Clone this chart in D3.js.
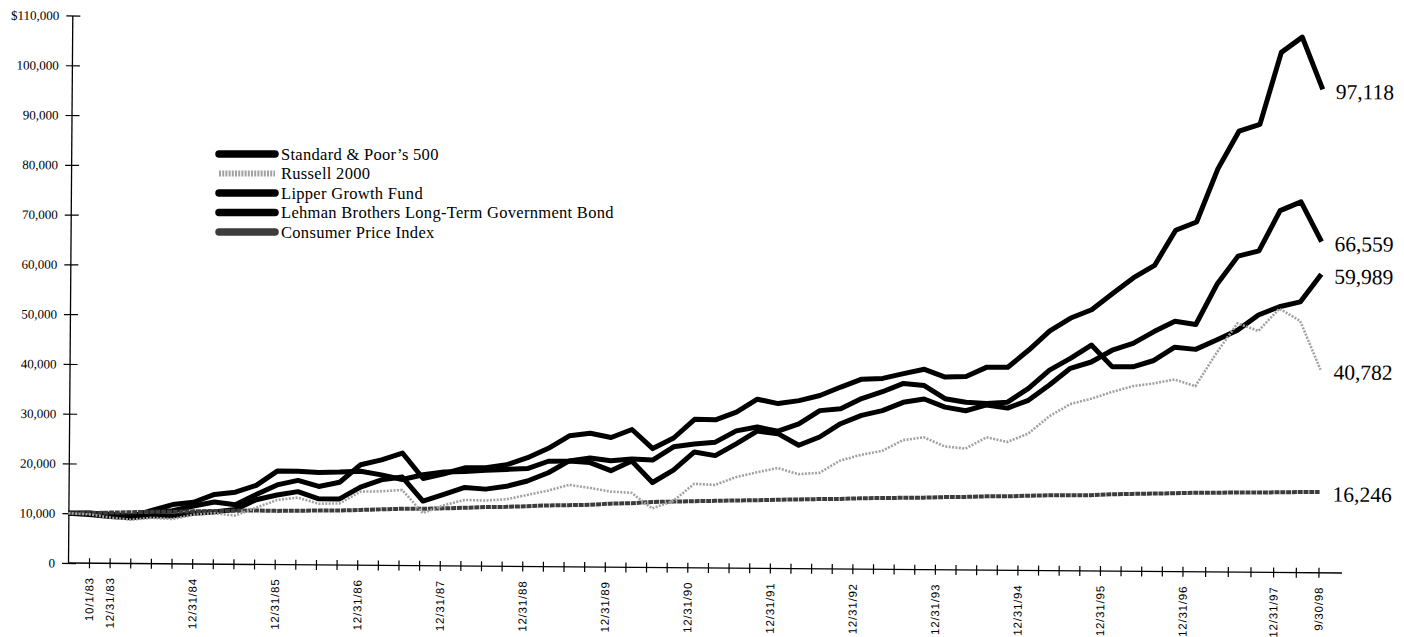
<!DOCTYPE html>
<html>
<head>
<meta charset="utf-8">
<script src="https://cdn.jsdelivr.net/npm/d3@7"></script>
<style>
  body { margin: 0; background: #fff; }
  svg { display: block; }
</style>
</head>
<body>
<svg id="chart" width="1404" height="637"></svg>
<script>
// quarter-end dates, value of $10,000 invested (in $ thousands)
const quarters = [
  "10/1/83", "12/31/83",
  "3/31/84", "6/30/84", "9/30/84", "12/31/84",
  "3/31/85", "6/30/85", "9/30/85", "12/31/85",
  "3/31/86", "6/30/86", "9/30/86", "12/31/86",
  "3/31/87", "6/30/87", "9/30/87", "12/31/87",
  "3/31/88", "6/30/88", "9/30/88", "12/31/88",
  "3/31/89", "6/30/89", "9/30/89", "12/31/89",
  "3/31/90", "6/30/90", "9/30/90", "12/31/90",
  "3/31/91", "6/30/91", "9/30/91", "12/31/91",
  "3/31/92", "6/30/92", "9/30/92", "12/31/92",
  "3/31/93", "6/30/93", "9/30/93", "12/31/93",
  "3/31/94", "6/30/94", "9/30/94", "12/31/94",
  "3/31/95", "6/30/95", "9/30/95", "12/31/95",
  "3/31/96", "6/30/96", "9/30/96", "12/31/96",
  "3/31/97", "6/30/97", "9/30/97", "12/31/97",
  "3/31/98", "6/30/98", "9/30/98"
];

const sp500 = [10.0, 10.04, 9.8, 9.55, 10.47, 10.66, 11.64, 12.49, 11.98, 14.04,
  16.02, 16.96, 15.78, 16.66, 20.21, 21.22, 22.62, 17.53, 18.53, 19.75,
  19.81, 20.43, 21.88, 23.8, 26.35, 26.88, 26.07, 27.71, 23.91, 26.07,
  29.85, 29.79, 31.37, 34.0, 33.15, 33.78, 34.83, 36.57, 38.18, 38.37,
  39.37, 40.27, 38.74, 38.9, 40.8, 40.8, 44.3, 48.2, 50.8, 52.5,
  55.8, 59.0, 61.5, 68.6, 70.3, 81.0, 88.6, 90.0, 104.5, 107.6, 97.118];

const russell2000 = [10.0, 9.8, 9.2, 8.8, 9.2, 9.0, 9.9, 10.2, 9.8, 11.4,
  13.0, 13.5, 12.3, 12.4, 14.8, 14.9, 15.2, 10.6, 12.2, 13.3,
  13.2, 13.5, 14.4, 15.3, 16.5, 15.9, 15.2, 15.0, 11.9, 13.4,
  16.9, 16.7, 18.3, 19.3, 20.2, 19.0, 19.3, 21.8, 23.0, 23.8,
  26.0, 26.6, 24.8, 24.4, 26.7, 25.8, 27.5, 31.0, 33.5, 34.6,
  36.0, 37.2, 37.8, 38.6, 37.3, 44.0, 50.0, 48.5, 53.0, 50.6, 40.782];

const lipperGrowth = [10.0, 9.8, 9.4, 9.2, 9.6, 9.6, 10.2, 10.5, 11.0, 13.0,
  14.0, 14.7, 13.3, 13.3, 15.7, 17.2, 17.8, 13.0, 14.4, 15.8,
  15.5, 16.1, 17.2, 18.9, 21.3, 21.0, 19.4, 21.4, 17.1, 19.6,
  23.3, 22.6, 25.0, 27.6, 27.1, 24.8, 26.5, 29.2, 30.9, 31.9,
  33.6, 34.3, 32.7, 32.0, 33.2, 32.6, 34.2, 37.3, 40.7, 42.0,
  44.4, 45.8, 48.2, 50.3, 49.7, 57.8, 63.5, 64.6, 72.7, 74.5, 66.559];

const lehmanBond = [10.0, 10.1, 9.8, 9.4, 10.7, 11.9, 12.4, 14.0, 14.5, 15.9,
  18.8, 18.8, 18.6, 18.7, 18.9, 18.2, 17.3, 18.3, 18.9, 19.0,
  19.3, 19.5, 19.7, 21.2, 21.3, 21.9, 21.4, 21.8, 21.6, 24.3,
  24.9, 25.3, 27.6, 28.4, 27.6, 29.1, 31.8, 32.2, 34.3, 35.7,
  37.4, 37.0, 34.4, 33.7, 33.5, 33.8, 36.6, 40.3, 42.7, 45.4,
  41.1, 41.1, 42.4, 45.1, 44.7, 46.6, 48.6, 51.7, 53.4, 54.4, 59.989];

const cpi = [10.0, 10.06, 10.19, 10.3, 10.41, 10.46, 10.57, 10.69, 10.75, 10.85,
  10.8, 10.87, 10.94, 10.97, 11.13, 11.27, 11.42, 11.46, 11.57, 11.72,
  11.9, 11.97, 12.14, 12.32, 12.41, 12.52, 12.78, 12.9, 13.18, 13.29,
  13.41, 13.51, 13.62, 13.69, 13.83, 13.92, 14.03, 14.09, 14.26, 14.34,
  14.41, 14.48, 14.62, 14.7, 14.84, 14.87, 15.03, 15.14, 15.21, 15.24,
  15.46, 15.56, 15.67, 15.75, 15.89, 15.92, 16.01, 16.02, 16.11, 16.19, 16.246];

const yTicks = [0, 10, 20, 30, 40, 50, 60, 70, 80, 90, 100, 110];

// the printed axis has one tick fewer than quarters (no mark for 6/30/98)
const tickDates = quarters.filter(d => d !== "6/30/98");

const series = [
  { name: "Standard & Poor\u2019s 500", values: sp500, style: "black" },
  { name: "Russell 2000", values: russell2000, style: "dots" },
  { name: "Lipper Growth Fund", values: lipperGrowth, style: "black" },
  { name: "Lehman Brothers Long-Term Government Bond", values: lehmanBond, style: "black" },
  { name: "Consumer Price Index", values: cpi, style: "grain" }
];

const styles = {
  black: { stroke: "#000", width: 5, dash: null },
  dots:  { stroke: "#a2a2a2", width: 2.6, dash: "2 1.4" },
  grain: { stroke: "#3c3c3c", width: 4, dash: "5 0.8" }
};

const serif = "'Liberation Serif', 'Times New Roman', serif";
const sans = "'Liberation Sans', Arial, sans-serif";

const svg = d3.select("#chart");
svg.append("rect").attr("width", 1404).attr("height", 637).attr("fill", "#fff");

const x = d3.scaleLinear().domain([0, quarters.length - 1]).range([68, 1319]);
const y = d3.scaleLinear().domain([0, 110]).range([563, 15.5]);
const tickX = d3.scaleLinear().domain([0, 53, tickDates.length - 1]).range([89.5, 1183, 1319]);

// the scanned page sits slightly askew
const plot = svg.append("g").attr("transform", "rotate(0.45 68 563)");

// y axis
const fmtY = v => v === 0 ? "0" : (v === 110 ? "$" : "") + d3.format(",")(v * 1000);
const yAxis = plot.append("g")
  .attr("transform", "translate(68,0)")
  .call(d3.axisLeft(y).tickValues(yTicks).tickSize(0).tickSizeOuter(0).tickPadding(13).tickFormat(fmtY));
yAxis.select(".domain").attr("stroke", "#000").attr("stroke-width", 1.3);
yAxis.selectAll(".tick").append("line")
  .attr("x1", -6).attr("x2", 8)
  .attr("stroke", "#000").attr("stroke-width", 1.2);
yAxis.selectAll("text")
  .attr("font-family", serif)
  .attr("font-size", 13)
  .attr("fill", "#000");

// x axis
const xAxis = plot.append("g");
xAxis.append("line")
  .attr("x1", 68).attr("x2", 1342)
  .attr("y1", y(0)).attr("y2", y(0))
  .attr("stroke", "#000").attr("stroke-width", 1.3);
xAxis.selectAll(".xtick")
  .data(tickDates)
  .join("line")
  .attr("class", "xtick")
  .attr("x1", (d, i) => tickX(i)).attr("x2", (d, i) => tickX(i))
  .attr("y1", y(0) - 5).attr("y2", y(0) + 5)
  .attr("stroke", "#000").attr("stroke-width", 1.2);
xAxis.selectAll(".xlabel")
  .data(tickDates.map((d, i) => ({ d, i })).filter(t => t.d === "10/1/83" || t.d.startsWith("12/31") || t.d === "9/30/98"))
  .join("text")
  .attr("class", "xlabel")
  .attr("transform", t => `translate(${tickX(t.i)},${y(0) + 14}) rotate(-90)`)
  .attr("text-anchor", "end")
  .attr("dy", "0.35em")
  .attr("font-family", sans)
  .attr("font-size", 11.5)
  .attr("letter-spacing", 0.8)
  .text(t => t.d);

// lines
const line = d3.line()
  .x((d, i) => x(i))
  .y(d => y(d));

const drawOrder = [series[2], series[3], series[0], series[4], series[1]];
plot.selectAll(".series")
  .data(drawOrder)
  .join("path")
  .attr("class", "series")
  .attr("fill", "none")
  .attr("stroke", s => styles[s.style].stroke)
  .attr("stroke-width", s => styles[s.style].width)
  .attr("stroke-dasharray", s => styles[s.style].dash)
  .attr("stroke-linejoin", "round")
  .attr("d", s => line(s.values));

// end values
plot.selectAll(".endval")
  .data(series)
  .join("text")
  .attr("class", "endval")
  .attr("x", s => x(s.values.length - 1) + 13)
  .attr("y", s => y(s.values[s.values.length - 1]) + 2)
  .attr("dy", "0.35em")
  .attr("font-family", serif)
  .attr("font-size", 21.5)
  .text(s => d3.format(",")(Math.round(s.values[s.values.length - 1] * 1000)));

// legend
const legend = svg.append("g").attr("transform", "translate(215,154)");
const item = legend.selectAll("g")
  .data(series)
  .join("g")
  .attr("transform", (s, i) => `translate(0,${i * 19.5})`);
item.append("line")
  .attr("x1", 4).attr("x2", 60)
  .attr("stroke", s => styles[s.style].stroke)
  .attr("stroke-width", s => s.style === "dots" ? 6 : 7.5)
  .attr("stroke-dasharray", s => s.style === "dots" ? "2 1.2" : null)
  .attr("stroke-linecap", s => s.style === "dots" ? "butt" : "round");
item.append("text")
  .attr("x", 66)
  .attr("dy", "0.35em")
  .attr("font-family", serif)
  .attr("font-size", 16.5)
  .attr("letter-spacing", 0.3)
  .text(s => s.name);
</script>
</body>
</html>
